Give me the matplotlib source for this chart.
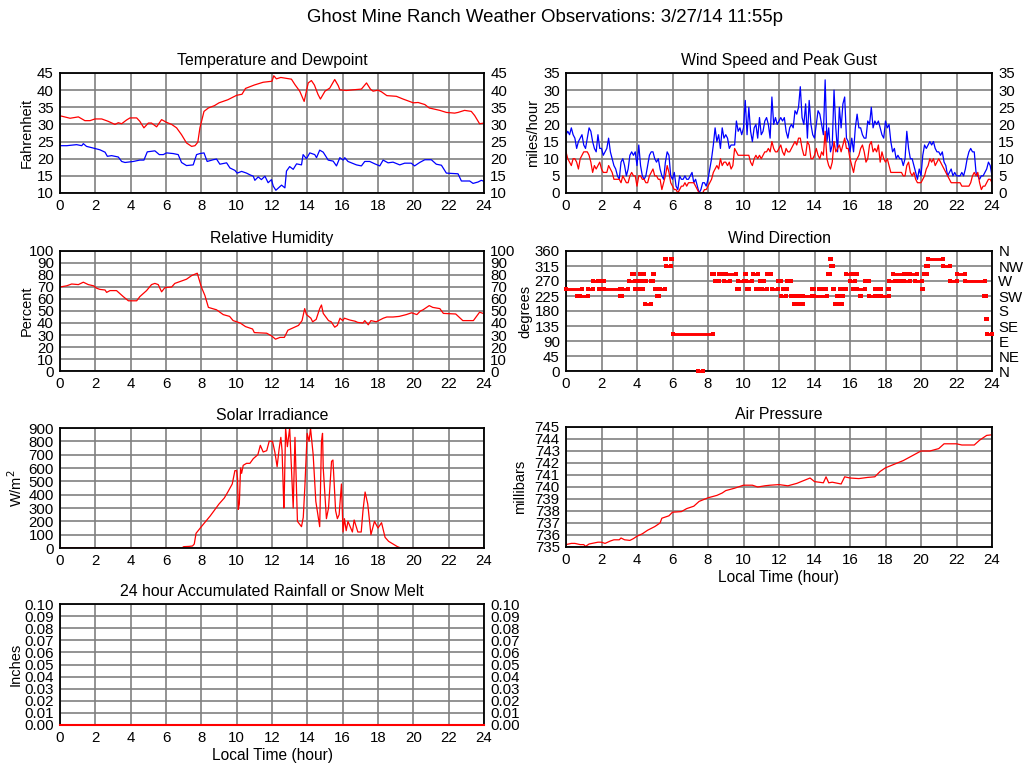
import numpy as np
import matplotlib
matplotlib.use('Agg')
import matplotlib.pyplot as plt

plt.rcParams['font.family'] = ['Liberation Sans', 'DejaVu Sans']
plt.rcParams['font.size'] = 10.5

# ── data ──────────────────────────────────────────────────────────────────────
HOUR_TICKS = list(range(0, 25, 2))

temp_t = [0, 0.1, 0.57, 1.04, 1.41, 1.7, 1.98, 2.36, 2.73, 3.11, 3.3, 3.49, 3.77, 3.96,
          4.34, 4.52, 4.75, 5.0, 5.18, 5.47, 5.75, 6.03, 6.32, 6.6, 6.88, 7.16, 7.45, 7.64,
          7.8, 7.92, 8.15, 8.4, 8.75, 9.0, 9.5, 10.0, 10.3, 10.5, 11.0, 11.5, 12.0, 12.1,
          12.25, 12.5, 13.1, 13.3, 13.57, 13.82, 14.05, 14.23, 14.4, 14.6, 14.74, 15.0,
          15.27, 15.46, 15.55, 15.75, 15.84, 16.2, 16.6, 17.06, 17.35, 17.57, 17.72, 18.0,
          18.2, 18.5, 19.04, 19.42, 20.0, 20.27, 20.65, 20.9, 21.5, 21.87, 22.34, 22.53,
          22.9, 23.28, 23.47, 23.75, 24.0]
temp_v = [32.5, 32.4, 31.8, 32.2, 31.1, 31.1, 31.6, 31.6, 30.9, 30.0, 30.5, 30.2, 31.3, 31.9,
          31.9, 30.9, 29.0, 30.4, 30.4, 29.3, 31.4, 30.6, 30.0, 29.0, 27.0, 24.6, 23.6, 23.8,
          24.8, 29.0, 33.8, 34.8, 35.5, 36.3, 37.2, 38.5, 38.8, 40.5, 41.5, 42.3, 42.6, 44.2,
          43.3, 43.7, 43.2, 41.6, 39.7, 36.7, 42.1, 42.8, 41.5, 38.8, 37.4, 39.7,
          40.6, 42.3, 43.1, 41.3, 40.1, 39.9, 40.1, 40.3, 42.1, 40.3, 39.7, 40.0,
          39.5, 38.4, 38.2, 37.4, 36.3, 36.4, 35.8, 34.8, 34.1, 33.5, 33.3, 33.5,
          34.1, 33.8, 32.6, 30.2, 30.4]

dew_t = [0, 0.38, 0.94, 1.23, 1.32, 1.5, 1.89, 2.26, 2.55, 2.68, 2.92, 3.3, 3.49, 3.68, 4.15,
         4.52, 4.75, 4.94, 5.37, 5.62, 5.85, 6.03, 6.41, 6.69, 6.88, 7.16, 7.54, 7.73, 7.92,
         8.15, 8.33, 8.67, 8.86, 9.05, 9.43, 9.62, 9.9, 10.03, 10.28, 10.56, 10.75, 10.94,
         11.03, 11.22, 11.4, 11.6, 11.78, 11.97, 12.07, 12.22, 12.54, 12.73, 12.82, 13.0,
         13.2, 13.39, 13.67, 13.76, 13.95, 14.14, 14.42, 14.52, 14.7, 14.9, 15.18, 15.46,
         15.65, 15.84, 16.03, 16.12, 16.3, 16.78, 17.06, 17.25, 17.53, 17.82, 18.1, 18.29,
         18.57, 18.85, 19.23, 19.51, 19.88, 20.07, 20.36, 20.65, 21.02, 21.3, 21.59, 21.87,
         22.53, 22.72, 23.19, 23.38, 23.66, 23.85, 24.0]
dew_v = [23.8, 23.8, 24.1, 23.8, 24.4, 23.6, 23.1, 22.6, 21.9, 20.7, 20.9, 20.5, 19.2, 18.9, 19.2,
         19.6, 19.6, 22.0, 22.3, 21.2, 21.2, 21.7, 21.5, 21.2, 18.9, 18.0, 18.2, 21.2, 21.5,
         21.7, 19.2, 19.7, 19.9, 18.4, 18.8, 17.3, 16.6, 15.8, 16.3, 15.8, 15.3, 14.9,
         13.7, 14.7, 13.9, 14.9, 13.0, 13.9, 12.0, 10.8, 12.3, 11.5, 16.4, 17.7,
         16.9, 18.5, 18.2, 21.2, 20.0, 21.7, 21.2, 20.3, 22.5, 21.9, 19.6, 19.3,
         17.9, 20.3, 19.6, 20.3, 19.2, 18.2, 17.9, 19.2, 19.2, 18.5, 17.9, 19.6,
         18.8, 19.0, 18.2, 18.7, 18.7, 17.9, 18.9, 19.7, 19.7, 18.4, 18.1, 15.8,
         15.6, 13.5, 13.5, 12.8, 13.2, 13.7, 13.4]

hum_t = [0, 0.38, 0.66, 1.04, 1.32, 1.6, 1.9, 2.07, 2.26, 2.55, 2.64, 2.83, 3.2, 3.58, 3.87,
         4.34, 4.52, 4.9, 5.18, 5.37, 5.56, 5.75, 5.94, 6.32, 6.5, 6.88, 7.16, 7.45, 7.77,
         8.0, 8.2, 8.4, 8.86, 9.24, 9.6, 9.8, 10.2, 10.5, 10.9, 11.0, 11.7, 12.0, 12.2,
         12.45, 12.7, 12.9, 13.2, 13.5, 13.7, 13.85, 13.95, 14.2, 14.3, 14.5, 14.7, 14.8,
         14.9, 15.2, 15.35, 15.55, 15.7, 15.85, 16.0, 16.1, 16.4, 16.7, 16.85, 17.15, 17.25,
         17.45, 17.6, 17.9, 18.3, 18.5, 18.85, 19.2, 19.6, 19.9, 20.2, 20.4, 20.55, 20.9,
         21.1, 21.5, 21.7, 22.4, 22.8, 23.4, 23.75, 23.95]
hum_v = [70, 71, 72.5, 72, 74, 72, 71, 69, 68, 67.5, 65.5, 67, 67, 62, 58.5,
         58.5, 62, 67, 72, 73, 72, 66, 69.5, 70, 73, 75, 76.5, 79.5, 81.5,
         70, 63, 53, 51, 47, 45.5, 42, 40, 37, 35, 32, 31.5, 29, 26.5,
         28, 28, 34, 36, 38, 42, 52, 47, 44, 41, 43, 52, 55,
         48, 42, 41, 36.5, 38, 44, 42, 44, 42.5, 41.5, 40.5, 40, 42,
         38.5, 42, 41, 44, 45, 45, 45.5, 47, 48.5, 47, 50, 51, 54.5,
         53, 52, 48, 47.5, 42, 42, 49, 48]

# wind speed and peak gust, one reading every 6 minutes
gust = [17, 18, 17, 19, 17, 16, 13, 15, 16, 17, 14, 13, 16, 19, 18, 15, 13, 12, 17, 13,
        13, 11, 12, 13, 16, 12, 10, 8, 7, 5, 4, 9, 10, 8, 5, 7, 11, 12, 11, 12,
        8, 14, 8, 5, 4, 5, 8, 11, 12, 12, 10, 9, 10, 7, 5, 4, 9, 12, 11, 5,
        4, 6, 2, 1, 5, 4, 4, 5, 4, 4, 5, 6, 3, 4, 2, 0, 1, 3, 3, 2,
        4, 7, 10, 14, 19, 15, 17, 13, 19, 16, 17, 16, 13, 14, 14, 14, 21, 18, 19, 17,
        19, 27, 17, 25, 18, 15, 19, 20, 16, 22, 17, 18, 21, 22, 20, 16, 28, 20, 22, 20,
        21, 22, 21, 22, 18, 16, 19, 20, 19, 24, 23, 25, 31, 22, 20, 26, 16, 27, 20, 17,
        16, 20, 24, 23, 20, 17, 33, 15, 19, 12, 14, 30, 19, 12, 25, 19, 26, 28, 16, 15,
        12, 16, 12, 19, 23, 19, 19, 17, 16, 16, 21, 20, 25, 19, 21, 20, 21, 19, 17, 16,
        21, 19, 20, 15, 12, 13, 10, 11, 10, 10, 8, 10, 18, 13, 10, 10, 8, 6, 4, 7,
        5, 11, 14, 13, 14, 15, 14, 15, 13, 12, 12, 11, 12, 9, 8, 5, 6, 7, 5, 6,
        5, 5, 5, 6, 5, 7, 10, 12, 13, 12, 12, 6, 5, 4, 5, 5, 6, 7, 9, 8, 5]
speed = [12, 10, 9, 8, 10, 10, 9, 7, 10, 11, 12, 12, 12, 11, 9, 6, 8, 7, 8, 9,
         7, 6, 6, 6, 8, 7, 6, 4, 4, 4, 4, 3, 5, 4, 3, 3, 5, 6, 5, 5,
         2, 5, 5, 4, 4, 3, 3, 5, 6, 7, 5, 5, 4, 4, 1, 3, 5, 8, 6, 3,
         2, 1, 1, 0, 1, 2, 2, 3, 2, 3, 3, 3, 3, 2, 1, 0, 0, 0, 1, 1,
         2, 3, 4, 6, 7, 8, 7, 10, 8, 9, 9, 8, 9, 7, 8, 13, 12, 11, 11, 11,
         11, 11, 11, 11, 9, 8, 10, 11, 10, 11, 10, 11, 12, 12, 13, 12, 15, 13, 12, 12,
         13, 14, 12, 11, 13, 12, 12, 13, 14, 15, 14, 16, 16, 13, 11, 11, 15, 14, 10, 10,
         11, 13, 11, 10, 12, 11, 18, 10, 8, 7, 9, 15, 12, 13, 14, 12, 14, 16, 13, 13,
         10, 8, 6, 9, 10, 11, 13, 14, 12, 9, 10, 14, 15, 12, 13, 12, 14, 9, 12, 10,
         9, 10, 8, 6, 6, 6, 6, 6, 6, 6, 5, 5, 8, 9, 6, 5, 6, 4, 3, 3,
         3, 4, 5, 7, 8, 10, 9, 10, 8, 9, 10, 9, 8, 7, 6, 5, 4, 3, 3, 3,
         3, 3, 3, 2, 2, 2, 2, 2, 3, 5, 6, 5, 6, 3, 1, 2, 2, 3, 4, 4, 3]

# wind direction: runs of constant reading (start hour, end hour, degrees)
wd_start = [0.0, 0.6, 0.8, 1.26, 1.54, 1.84, 1.97, 2.16, 3.06, 3.14, 3.55, 3.72, 3.91, 3.93,
            4.17, 4.25, 4.42, 4.45, 4.8, 4.9, 5.0, 5.14, 5.3, 5.56, 5.64, 5.9, 6.0, 7.46,
            8.25, 8.4, 8.6, 8.9, 9.0, 9.64, 9.7, 10.06, 10.15, 10.22, 10.56, 10.7, 10.94,
            11.07, 11.3, 11.6, 11.97, 12.12, 12.22, 12.3, 12.44, 12.7, 12.82, 13.0, 13.2,
            13.38, 13.88, 13.95, 14.28, 14.58, 14.76, 14.86, 14.94, 15.04, 15.13, 15.26,
            15.43, 15.48, 15.53, 15.64, 15.79, 16.0, 16.18, 16.3, 16.4, 16.56, 16.86, 17.05,
            17.43, 17.58, 17.68, 17.76, 18.12, 18.2, 18.45, 18.72, 19.02, 19.25, 19.4, 19.68,
            20.08, 20.15, 20.3, 20.4, 21.24, 21.65, 22.03, 22.46, 23.57, 23.66, 23.72]
wd_end = [0.88, 0.72, 1.26, 1.54, 1.82, 1.94, 2.16, 3.04, 3.16, 3.5, 3.9, 3.82, 4.01, 4.17,
          4.4, 4.33, 4.5, 4.8, 4.88, 4.98, 5.15, 5.22, 5.55, 5.64, 5.92, 5.98, 8.3, 7.74,
          8.35, 8.6, 8.87, 9.25, 9.6, 9.72, 10.0, 10.14, 10.5, 10.3, 10.8, 10.85, 11.18,
          11.3, 11.56, 11.97, 12.12, 12.38, 12.3, 12.44, 12.7, 12.78, 12.95, 13.25, 13.33,
          13.85, 13.96, 14.7, 14.36, 14.66, 14.89, 14.94, 15.02, 15.1, 15.26, 15.41,
          15.5, 15.55, 15.6, 15.79, 16.05, 16.26, 16.24, 16.38, 16.86, 16.64, 17.09, 17.39,
          17.56, 17.64, 17.74, 18.18, 18.2, 18.55, 19.02, 18.8, 19.4, 19.32, 19.77, 20.06,
          20.14, 20.34, 20.38, 21.24, 21.65, 22.03, 22.5, 23.59, 23.64, 23.71, 24.0]
wd_deg = [247.5, 225, 225, 247.5, 270, 247.5, 270, 247.5, 225, 247.5, 270, 292.5, 247.5, 270,
          292.5, 247.5, 270, 202.5, 270, 292.5, 247.5, 225, 247.5, 337.5, 315, 337.5, 112.5, 0,
          292.5, 270, 292.5, 270, 292.5, 247.5, 270, 292.5, 270, 247.5, 292.5, 247.5, 270,
          247.5, 292.5, 247.5, 270, 225, 247.5, 247.5, 270, 225, 202.5, 225, 202.5,
          225, 247.5, 225, 247.5, 247.5, 292.5, 337.5, 315, 247.5, 202.5, 225,
          247.5, 202.5, 225, 247.5, 292.5, 270, 247.5, 292.5, 247.5, 225, 270, 225,
          247.5, 225, 247.5, 225, 247.5, 270, 292.5, 270, 270, 292.5, 292.5, 270,
          247.5, 292.5, 315, 337.5, 315, 270, 292.5, 270, 225, 157.5, 112.5]
DIR_LABELS = ['N', 'NE', 'E', 'SE', 'S', 'SW', 'W', 'NW', 'N']

solar_t = [0, 6.9, 7.0, 7.3, 7.5, 7.6, 7.7, 8.0, 8.5, 9.0, 9.3, 9.5, 9.75, 9.9, 10.0, 10.05,
           10.09, 10.15, 10.22, 10.28, 10.37, 10.56, 10.75, 10.94, 11.2, 11.34, 11.5, 11.7,
           11.84, 12.03, 12.16, 12.29, 12.4, 12.5, 12.57, 12.67, 12.7, 12.77, 12.87, 13.0,
           13.1, 13.2, 13.3, 13.44, 13.67, 13.77, 13.86, 13.99, 14.1, 14.18, 14.33, 14.48,
           14.7, 14.8, 14.86, 14.9, 15.08, 15.2, 15.37, 15.45, 15.6, 15.7, 15.8, 15.93,
           16.02, 16.1, 16.2, 16.3, 16.55, 16.65, 16.86, 17.05, 17.15, 17.27, 17.42, 17.6,
           17.8, 18.0, 18.2, 18.4, 18.6, 18.85, 19.1, 19.3, 24.0]
solar_v = [0, 0, 10, 12, 15, 30, 110, 160, 240, 330, 375, 420, 480, 580, 580, 520,
           290, 330, 600, 560, 620, 635, 635, 670, 700, 770, 720, 730,
           800, 800, 720, 610, 740, 830, 730, 300, 430, 900, 760, 900,
           600, 300, 830, 200, 160, 230, 460, 860, 800, 900, 700, 350,
           160, 800, 860, 600, 220, 300, 650, 660, 280, 220, 250, 480,
           120, 220, 130, 200, 120, 210, 120, 120, 280, 420, 330, 100,
           200, 150, 190, 80, 50, 30, 10, 0, 0]

pres_t = [0, 0.3, 0.5, 0.8, 1.0, 1.1, 1.3, 1.8, 2.0, 2.2, 2.5, 2.7, 3.0, 3.1, 3.3, 3.6, 3.8,
          4.0, 4.3, 4.6, 5.0, 5.3, 5.4, 5.8, 6.0, 6.5, 6.8, 7.2, 7.5, 8.0, 8.5, 8.8, 9.0,
          9.5, 10.0, 10.5, 10.8, 11.2, 11.5, 12.0, 12.5, 13.0, 13.5, 13.75, 14.0, 14.5,
          14.65, 14.8, 15.0, 15.5, 15.7, 16.0, 16.5, 17.0, 17.4, 17.7, 18.0, 18.5, 19.0,
          19.5, 20.0, 20.5, 21.0, 21.3, 21.7, 22.0, 22.3, 23.0, 23.3, 23.7, 24.0]
pres_v = [735.2, 735.3, 735.3, 735.2, 735.2, 735.05, 735.25, 735.4, 735.4, 735.3, 735.5,
          735.6, 735.6, 735.75, 735.6, 735.55, 735.7, 735.9, 736.1, 736.4, 736.7, 737.0,
          737.4, 737.6, 737.9, 737.95, 738.2, 738.4, 738.8, 739.1, 739.3, 739.5, 739.7,
          739.9, 740.15, 740.15, 740.0, 740.1, 740.15, 740.2, 740.1, 740.3, 740.6, 740.75,
          740.45, 740.35, 740.85, 740.35, 740.4, 740.25, 740.85, 740.75, 740.7, 740.8,
          740.85, 741.3, 741.6, 741.9, 742.2, 742.6, 743.0, 743.0, 743.2, 743.6, 743.6,
          743.6, 743.5, 743.5, 743.9, 744.3, 744.35]

rain_t = [0, 24]
rain_v = [0.0, 0.0]

# ── style ─────────────────────────────────────────────────────────────────────
GRID_C = '#808080'
RED = '#ff0000'
BLUE = '#0000ff'
W, H = 1024, 768
TICK_FS = 10.8
TITLE_FS = 11.4
LABEL_FS = 10.5


def make_ax(fig, left, top, right, bottom, ylim, yticks, title, ylabel, label_x,
            right_labels=True, xlabel=None):
    ax = fig.add_axes([left / W, 1 - bottom / H, (right - left) / W, (bottom - top) / H])
    ax.set_xlim(0, 24)
    ax.set_ylim(*ylim)
    ax.set_xticks(HOUR_TICKS)
    ax.set_yticks(yticks)
    ax.grid(True, color=GRID_C, linewidth=1.2)
    ax.set_axisbelow(True)
    for s in ax.spines.values():
        s.set_linewidth(1.3)
        s.set_color('black')
    ax.tick_params(length=0, pad=4.5, labelsize=TICK_FS, labelright=right_labels)
    ax.set_title(title, fontsize=TITLE_FS, pad=6)
    ax.set_ylabel(ylabel, fontsize=LABEL_FS)
    ax.yaxis.set_label_coords(label_x, 0.5)
    if xlabel:
        ax.set_xlabel(xlabel, fontsize=11.2, labelpad=2)
    return ax


fig = plt.figure(figsize=(10.24, 7.68), dpi=100, facecolor='white')
fig.text(545 / W, 1 - 18 / H, 'Ghost Mine Ranch Weather Observations: 3/27/14 11:55p',
         ha='center', va='center', fontsize=13.4)

LX0, LX1, RX0, RX1 = 60, 484, 566, 992

# temperature and dewpoint
ax = make_ax(fig, LX0, 73, LX1, 193, (10, 45), range(10, 46, 5),
             'Temperature and Dewpoint', 'Fahrenheit', -0.062)
ax.plot(temp_t, temp_v, color=RED, lw=0.9)
ax.plot(dew_t, dew_v, color=BLUE, lw=0.9)

# wind speed and gust
ax = make_ax(fig, RX0, 73, RX1, 193, (0, 35), range(0, 36, 5),
             'Wind Speed and Peak Gust', 'miles/hour', -0.06)
ax.plot(np.linspace(0, 24, len(gust)), gust, color=BLUE, lw=0.9)
ax.plot(np.linspace(0, 24, len(speed)), speed, color=RED, lw=0.9)

# relative humidity
ax = make_ax(fig, LX0, 251, LX1, 371, (0, 100), range(0, 101, 10),
             'Relative Humidity', 'Percent', -0.062)
ax.plot(hum_t, hum_v, color=RED, lw=0.9)

# wind direction
ax = make_ax(fig, RX0, 251, RX1, 371, (0, 360), range(0, 361, 45),
             'Wind Direction', 'degrees', -0.08, right_labels=False)
ax.hlines(wd_deg, wd_start, wd_end, colors=RED, lw=2.1, capstyle='butt', zorder=3,
          clip_on=False)
ax.scatter(wd_start + wd_end, wd_deg + wd_deg, marker='s', s=5.0, color=RED,
           linewidths=0, zorder=3, clip_on=False)
ax2 = ax.twinx()
ax2.set_ylim(0, 360)
ax2.set_yticks(range(0, 361, 45))
ax2.set_yticklabels(DIR_LABELS)
ax2.tick_params(length=0, pad=4.5, labelsize=TICK_FS)
for s in ax2.spines.values():
    s.set_visible(False)

# solar irradiance
ax = make_ax(fig, LX0, 428, LX1, 548, (0, 900), range(0, 901, 100),
             'Solar Irradiance', 'W/m$^2$', -0.082, right_labels=False)
ax.plot(solar_t, solar_v, color=RED, lw=0.9)

# air pressure
ax = make_ax(fig, RX0, 427, RX1, 547, (735, 745), range(735, 746),
             'Air Pressure', 'millibars', -0.092, right_labels=False,
             xlabel='Local Time (hour)')
ax.plot(pres_t, pres_v, color=RED, lw=0.9)

# rainfall
ax = make_ax(fig, LX0, 604, LX1, 725, (0, 0.10), np.arange(0, 0.101, 0.01),
             '24 hour Accumulated Rainfall or Snow Melt', 'Inches', -0.088,
             xlabel='Local Time (hour)')
ax.set_yticklabels([f'{v:.2f}' for v in np.arange(0, 0.101, 0.01)])
ax.plot(rain_t, rain_v, color=RED, lw=1.5, clip_on=False, zorder=3)

fig.savefig('out.png', dpi=100, facecolor='white')
